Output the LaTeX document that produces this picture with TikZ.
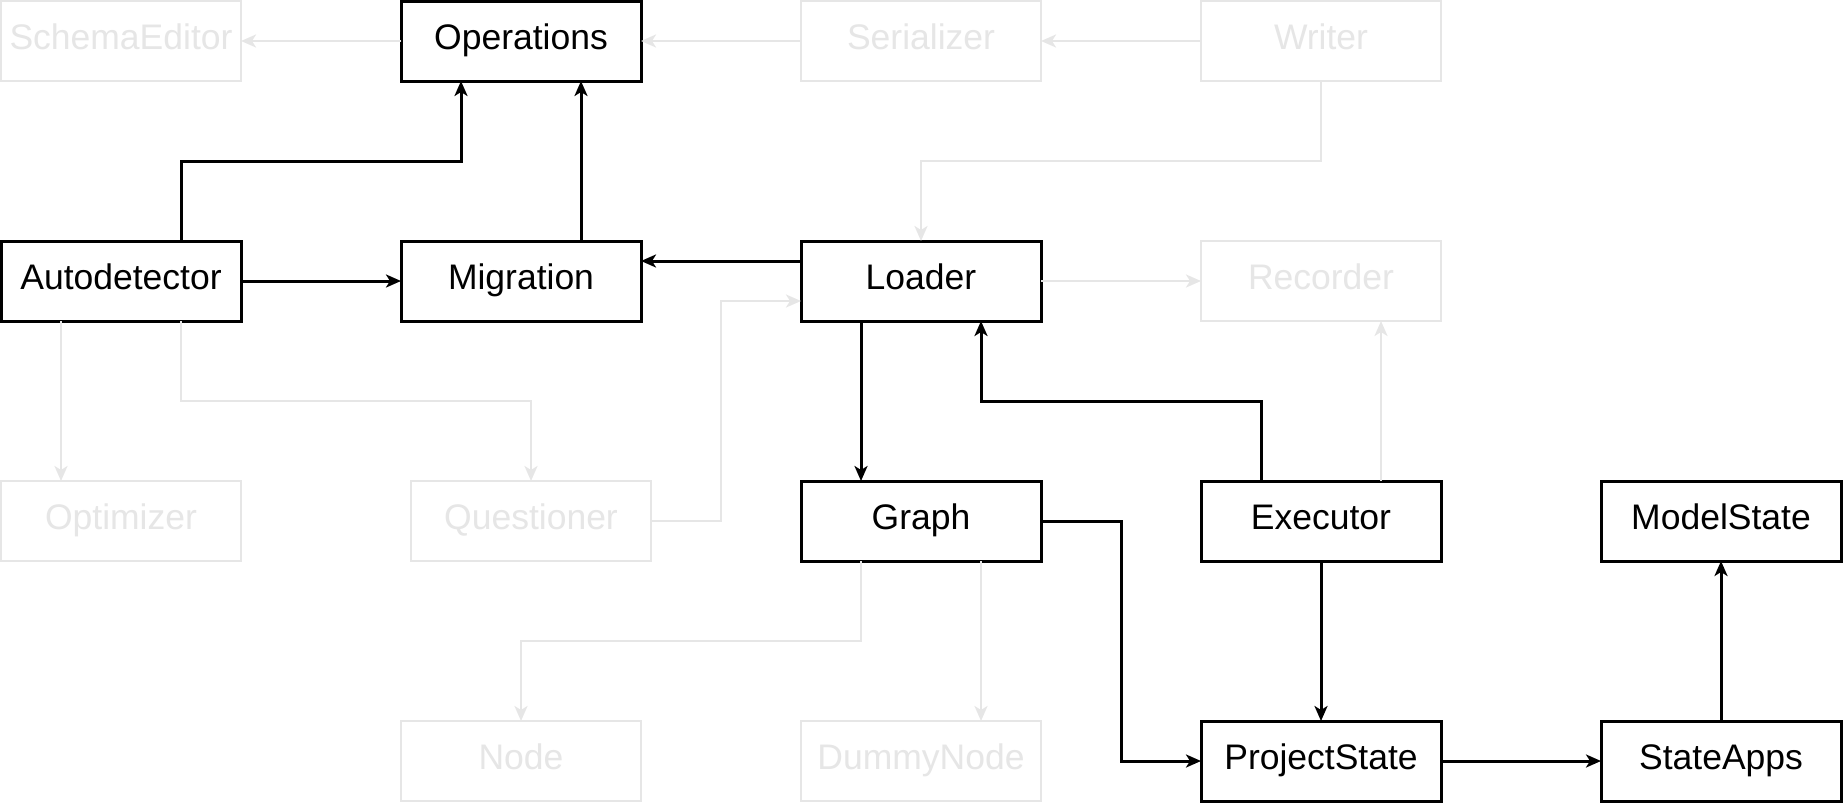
\documentclass[tikz,border=0pt]{standalone}
\usepackage{fontspec}
\setmainfont{Liberation Sans}
\usetikzlibrary{arrows.meta}
\definecolor{faint}{HTML}{E6E6E6}
\begin{document}
\begin{tikzpicture}[x=1pt,y=-1pt,
  box/.style={draw=black,line width=3pt,fill=white,minimum width=240pt,minimum height=80pt,inner sep=0pt,outer sep=0pt,text height=26pt,text depth=10pt,font=\fontsize{35.5}{40}\selectfont,text=black},
  gbox/.style={box,draw=faint,line width=2.6pt,text=faint},
  arr/.style={draw=black,line width=3pt,-{Stealth[length=15pt,width=13pt,inset=4pt]}},
  garr/.style={draw=faint,line width=2.6pt,-{Stealth[length=15pt,width=13pt,inset=4pt]}}]
\useasboundingbox (0,0) rectangle (1844,803);
% nodes
\node[gbox] (schema) at (121,41) {SchemaEditor};
\node[box]  (ops)    at (521,41) {Operations};
\node[gbox] (ser)    at (921,41) {Serializer};
\node[gbox] (writer) at (1321,41) {Writer};
\node[box]  (auto)   at (121,281) {Autodetector};
\node[box]  (mig)    at (521,281) {Migration};
\node[box]  (loader) at (921,281) {Loader};
\node[gbox] (rec)    at (1321,281) {Recorder};
\node[gbox] (opt)    at (121,521) {Optimizer};
\node[gbox] (quest)  at (531,521) {Questioner};
\node[box]  (graph)  at (921,521) {Graph};
\node[box]  (exec)   at (1321,521) {Executor};
\node[box]  (model)  at (1721,521) {ModelState};
\node[gbox] (nd)     at (521,761) {Node};
\node[gbox] (dummy)  at (921,761) {DummyNode};
\node[box]  (ps)     at (1321,761) {ProjectState};
\node[box]  (apps)   at (1721,761) {StateApps};
% faint connectors
\draw[garr] (ops.west) -- (schema.east);
\draw[garr] (ser.west) -- (ops.east);
\draw[garr] (writer.west) -- (ser.east);
\draw[garr] (writer.south) -- ++(0,80) -| (loader.north);
\draw[garr] (loader.east) -- (rec.west);
\draw[garr] (quest.east) -- ++(70,0) |- ([yshift=-20pt]loader.west);
\draw[garr] ([xshift=-60pt]auto.south) -- ([xshift=-60pt]opt.north);
\draw[garr] ([xshift=60pt]auto.south) -- ++(0,80) -| (quest.north);
\draw[garr] ([xshift=60pt]exec.north) -- ([xshift=60pt]rec.south);
\draw[garr] ([xshift=-60pt]graph.south) -- ++(0,80) -| (nd.north);
\draw[garr] ([xshift=60pt]graph.south) -- ([xshift=60pt]dummy.north);
% black connectors
\draw[arr] ([xshift=60pt]auto.north) -- ++(0,-80) -| ([xshift=-60pt]ops.south);
\draw[arr] ([xshift=60pt]mig.north) -- ([xshift=60pt]ops.south);
\draw[arr] (auto.east) -- (mig.west);
\draw[arr] ([yshift=20pt]loader.west) -- ([yshift=20pt]mig.east);
\draw[arr] ([xshift=-60pt]loader.south) -- ([xshift=-60pt]graph.north);
\draw[arr] ([xshift=-60pt]exec.north) -- ++(0,-80) -| ([xshift=60pt]loader.south);
\draw[arr] (graph.east) -- ++(80,0) |- (ps.west);
\draw[arr] (exec.south) -- (ps.north);
\draw[arr] (ps.east) -- (apps.west);
\draw[arr] (apps.north) -- (model.south);
\end{tikzpicture}
\end{document}
